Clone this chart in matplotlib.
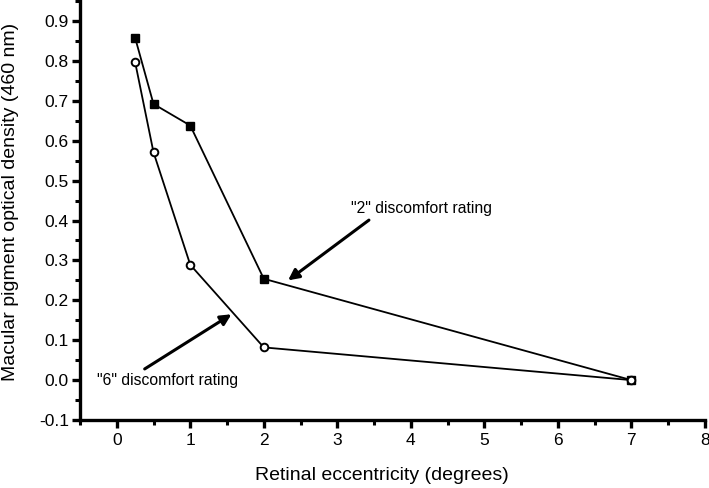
import numpy as np
import matplotlib.pyplot as plt
from matplotlib.ticker import MultipleLocator

plt.rcParams['font.family'] = ['Liberation Sans', 'DejaVu Sans']

# eccentricity (degrees)
ecc = [0.25, 0.5, 1, 2, 7]
# "2" discomfort rating (filled squares)
mpod_2 = [0.858, 0.692, 0.638, 0.254, 0.0]
# "6" discomfort rating (open circles)
mpod_6 = [0.797, 0.571, 0.289, 0.082, 0.0]

fig = plt.figure(figsize=(7.09, 4.88), dpi=100)
ax = fig.add_axes([0.1128, 0.1393, 0.8815, 0.861])

ax.plot(ecc, mpod_2, color='black', lw=1.3, marker='s', ms=6,
        mfc='black', mec='black', zorder=3)
ax.plot(ecc, mpod_6, color='black', lw=1.3, marker='o', ms=5.5,
        mfc='white', mec='black', mew=1.4, zorder=4)

arrow = dict(arrowstyle='-|>', color='black', lw=2.2,
             mutation_scale=16, shrinkA=0, shrinkB=0)
ax.annotate('', xy=(2.33, 0.25), xytext=(3.43, 0.401), arrowprops=arrow)
ax.text(3.18, 0.431, '"2" discomfort rating', fontsize=11.3, ha='left', va='center')
ax.annotate('', xy=(1.56, 0.165), xytext=(0.38, 0.028), arrowprops=arrow)
ax.text(-0.27, 0.0, '"6" discomfort rating', fontsize=11.3, ha='left', va='center')

ax.set_xlim(-0.5, 8)
ax.set_ylim(-0.1, 0.953)
ax.xaxis.set_major_locator(MultipleLocator(1))
ax.xaxis.set_minor_locator(MultipleLocator(0.5))
ax.yaxis.set_minor_locator(MultipleLocator(0.05))
ax.set_yticks(np.arange(-0.1, 0.91, 0.1))
ax.set_yticklabels([f'{v:.1f}' for v in np.arange(-0.1, 0.91, 0.1)])

for s in ['top', 'right']:
    ax.spines[s].set_visible(False)
for s in ['left', 'bottom']:
    ax.spines[s].set_linewidth(2.4)

ax.tick_params(which='major', direction='out', length=6, width=2.4, labelsize=12.5)
ax.tick_params(axis='y', which='major', pad=2)
ax.tick_params(which='minor', direction='out', length=3.5, width=2.2)

ax.set_xlabel('Retinal eccentricity (degrees)', fontsize=14)
ax.set_ylabel('Macular pigment optical density (460 nm)', fontsize=14)
ax.xaxis.set_label_coords(0.483, -0.112)
ax.yaxis.set_label_coords(-0.098, 0.519)

plt.savefig('out.png', dpi=100)
